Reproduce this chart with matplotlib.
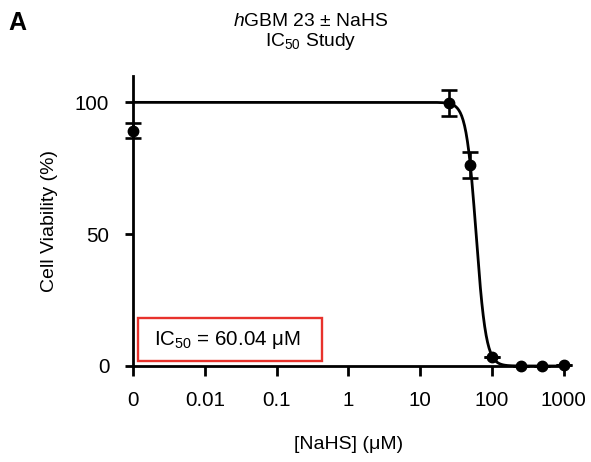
import numpy as np
import matplotlib
matplotlib.use('Agg')
import matplotlib.pyplot as plt
from matplotlib.patches import Rectangle

plt.rcParams['font.family'] = ['Liberation Sans', 'DejaVu Sans']
plt.rcParams['mathtext.fontset'] = 'custom'
plt.rcParams['mathtext.rm'] = 'Liberation Sans'
plt.rcParams['mathtext.it'] = 'Liberation Sans:italic'

# measured points (0 uM plotted at 0.001 on the log axis)
conc = [0.001, 25, 50, 100, 250, 500, 1000]
viability = [89.2, 99.7, 76.2, 3.6, 0.0, 0.0, 0.5]
sem = [2.8, 4.9, 4.8, 0.0, 0.0, 0.0, 0.0]

# fitted dose-response parameters
top = 100.0
bottom = 0.0
ic50 = 60.04
hill = 6.3

tick_pos = [0.001, 0.01, 0.1, 1, 10, 100, 1000]
tick_lab = ['0', '0.01', '0.1', '1', '10', '100', '1000']


def main():
    fig = plt.figure(figsize=(5.91, 4.62), dpi=100)
    ax = fig.add_axes([0.225, 0.2078, 0.729, 0.6277])

    xf = np.logspace(-3, 3, 600)
    yf = bottom + (top - bottom) / (1 + (xf / ic50) ** hill)
    ax.plot(xf, yf, color='black', lw=2.0, zorder=2)

    ax.errorbar(conc, viability, yerr=sem, fmt='o', color='black', ms=7.5,
                elinewidth=1.9, capsize=5.5, capthick=1.9, clip_on=False, zorder=3)

    ax.set_xscale('log')
    ax.set_xlim(0.001, 1000)
    ax.set_ylim(0, 110)
    ax.set_xticks(tick_pos)
    ax.set_xticklabels(tick_lab)
    ax.minorticks_off()
    ax.set_yticks([0, 50, 100])

    for s in ['top', 'right']:
        ax.spines[s].set_visible(False)
    for s in ['left', 'bottom']:
        ax.spines[s].set_linewidth(2.0)
    ax.tick_params(axis='both', width=2.0, labelsize=14.8, pad=11)
    ax.tick_params(axis='x', length=7)
    ax.tick_params(axis='y', length=6)

    ax.set_xlabel('[NaHS] (μM)', fontsize=14, labelpad=19)
    ax.set_ylabel('Cell Viability (%)', fontsize=14, labelpad=12)

    ax.add_patch(Rectangle((0.012, 0.017), 0.4265, 0.148, transform=ax.transAxes,
                           fill=False, edgecolor='#e8322c', lw=1.7, clip_on=False))
    ax.text(0.048, 0.091, 'IC$_{50}$ = 60.04 μM', transform=ax.transAxes,
            fontsize=14.8, va='center', ha='left')

    fig.text(311 / 591, 1 - 21 / 462, '$h$GBM 23 ± NaHS', fontsize=13.9,
             ha='center', va='center')
    fig.text(311 / 591, 1 - 41 / 462, 'IC$_{50}$ Study', fontsize=13.9,
             ha='center', va='center')
    fig.text(8 / 591, 1 - 23 / 462, 'A', fontsize=18, fontweight='bold',
             ha='left', va='center')

    fig.savefig('out.png', dpi=100)


if __name__ == "__main__":
    main()
